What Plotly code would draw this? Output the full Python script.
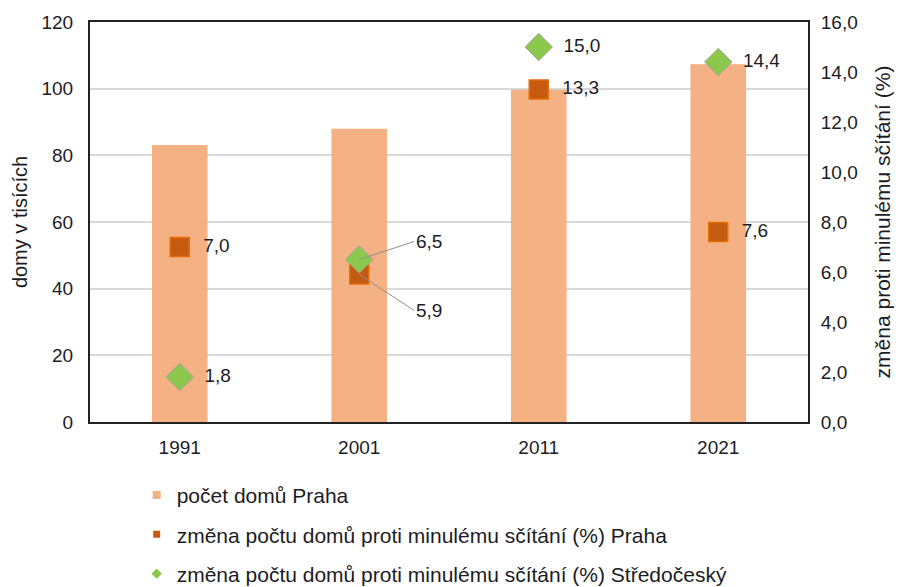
import plotly.graph_objects as go

years = [1991, 2001, 2011, 2021]
domy_praha = [83.1, 88.0, 99.7, 107.3]
zmena_praha = [7.0, 5.9, 13.3, 7.6]
zmena_stredocesky = [1.8, 6.5, 15.0, 14.4]
y2_ticks = [0, 2, 4, 6, 8, 10, 12, 14, 16]

name_bar = "počet domů Praha"
name_sq = "změna počtu domů proti minulému sčítání (%) Praha"
name_di = "změna počtu domů proti minulému sčítání (%) Středočeský"

FONT = "Liberation Sans, Arial, sans-serif"
TXT = "#1c1c24"
C_BAR = "#F4B183"
C_SQ = "#C55A11"
C_DI = "#8CC84B"
FS = 19
NB = "\u00a0\u00a0"

def fmt(v):
    return f"{v:.1f}".replace(".", ",")

sq_text = [NB + fmt(v) if i != 1 else "" for i, v in enumerate(zmena_praha)]
di_text = [NB + fmt(v) if i != 1 else "" for i, v in enumerate(zmena_stredocesky)]

fig = go.Figure()
fig.add_trace(go.Bar(
    x=years, y=domy_praha, name=name_bar, marker_color=C_BAR,
    marker_line_width=0, width=3.1, showlegend=False,
))
fig.add_trace(go.Scatter(
    x=years, y=zmena_praha, name=name_sq, yaxis="y2", mode="markers+text",
    marker=dict(symbol="square", size=19, color=C_SQ,
                line=dict(color="#E46C0A", width=1.5)),
    text=sq_text, textposition="middle right",
    textfont=dict(family=FONT, size=FS, color=TXT), showlegend=False,
))
fig.add_trace(go.Scatter(
    x=years, y=zmena_stredocesky, name=name_di, yaxis="y2", mode="markers+text",
    marker=dict(symbol="diamond", size=21, color=C_DI,
                line=dict(color="#A0A0A0", width=1)),
    text=di_text, textposition="middle right",
    textfont=dict(family=FONT, size=FS, color=TXT), showlegend=False,
))

for nm, sym, col, sz, grp in [(name_bar, "square", C_BAR, 8, "a"),
                              (name_sq, "square", C_SQ, 7, "b"),
                              (name_di, "diamond", C_DI, 8, "c")]:
    fig.add_trace(go.Scatter(x=[None], y=[None], mode="markers", name=nm,
                             marker=dict(symbol=sym, size=sz, color=col),
                             legendgroup=grp, showlegend=True))

fig.add_annotation(x=years[1], y=zmena_stredocesky[1], yref="y2", xref="x",
                   text=fmt(zmena_stredocesky[1]), showarrow=True, arrowhead=0,
                   arrowcolor="#909090", arrowwidth=1, ax=55, ay=-18,
                   xanchor="left", font=dict(family=FONT, size=FS, color=TXT))
fig.add_annotation(x=years[1], y=zmena_praha[1], yref="y2", xref="x",
                   text=fmt(zmena_praha[1]), showarrow=True, arrowhead=0,
                   arrowcolor="#909090", arrowwidth=1, ax=55, ay=36,
                   xanchor="left", font=dict(family=FONT, size=FS, color=TXT))

fig.update_layout(
    width=901, height=587,
    margin=dict(l=90, r=93, t=22, b=165),
    paper_bgcolor="white", plot_bgcolor="white",
    font=dict(family=FONT, size=FS, color=TXT),
    xaxis=dict(type="linear", range=[years[0] - 5, years[-1] + 5],
               tickmode="array", tickvals=years, ticktext=[str(y) for y in years],
               showgrid=False, zeroline=False, automargin=False,
               showline=True, linecolor="#222", linewidth=2, ticklabelstandoff=7,
               mirror=True, ticks="", tickfont=dict(size=FS, color=TXT)),
    yaxis=dict(range=[0, 120], dtick=20, showgrid=True, gridcolor="#D9D9D9",
               gridwidth=1.5, showline=True, linecolor="#222", linewidth=2,
               ticks="", zeroline=False, automargin=False, ticklabelstandoff=11,
               title=dict(text="domy v tisících", font=dict(size=20, color=TXT), standoff=8),
               tickfont=dict(size=FS, color=TXT)),
    yaxis2=dict(range=[0, 16], tickmode="array", tickvals=y2_ticks,
                ticktext=[fmt(v) for v in y2_ticks], overlaying="y", side="right",
                showgrid=False, showline=True, linecolor="#222", automargin=False,
                linewidth=2, ticks="", zeroline=False, ticklabelstandoff=7,
                title=dict(text="změna proti minulému sčítání (%)",
                           font=dict(size=21, color=TXT), standoff=19),
                tickfont=dict(size=FS, color=TXT)),
    legend=dict(x=0.065, y=0.191, xref="paper", yref="container",
                xanchor="left", yanchor="top",
                orientation="v", tracegroupgap=9, itemwidth=30,
                font=dict(size=21, color=TXT), bgcolor="rgba(0,0,0,0)"),
    showlegend=True,
)

fig.write_html("out.html", config={"displayModeBar": False},
               post_script="document.body.style.margin='0';document.body.style.padding='0';")
